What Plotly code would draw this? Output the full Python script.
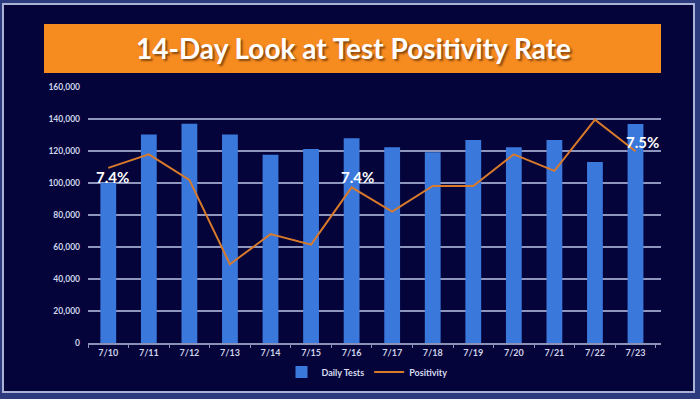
import plotly.graph_objects as go

dates = ["7/10", "7/11", "7/12", "7/13", "7/14", "7/15", "7/16",
         "7/17", "7/18", "7/19", "7/20", "7/21", "7/22", "7/23"]
daily_tests = [100000, 130300, 137100, 130300, 117600, 121300, 127900,
               122300, 119200, 126900, 122300, 126900, 113200, 136900]
positivity = [7.39, 7.48, 7.31, 6.75, 6.95, 6.88, 7.26,
              7.10, 7.27, 7.27, 7.48, 7.37, 7.71, 7.50]
label_dates = ["7/10", "7/16", "7/23"]
label_texts = ["7.4%", "7.4%", "7.5%"]

W, H = 700, 399
L, R, T, B = 88, 661, 87, 343  # plot area in pixels


def px(x):
    return (x - L) / (R - L)


def py(y):
    return (B - y) / (B - T)


fig = go.Figure()
fig.add_trace(go.Bar(x=dates, y=daily_tests, name="Daily Tests",
                     marker=dict(color="#3a78dc", line=dict(width=0))))
fig.add_trace(go.Scatter(x=dates, y=positivity, name="Positivity", yaxis="y2",
                         mode="lines", line=dict(color="#d97a2b", width=2)))

shapes = [
    # frame
    dict(type="rect", xref="paper", yref="paper", layer="below",
         x0=px(3), x1=px(694), y0=py(392), y1=py(4),
         fillcolor="#04043a", line=dict(color="#aab2d6", width=2)),
    # title box
    dict(type="rect", xref="paper", yref="paper", layer="below",
         x0=px(44), x1=px(661), y0=py(73), y1=py(24),
         fillcolor="#f68b1f", line=dict(width=0)),
]

annotations = [
    dict(text="14-Day Look at Test Positivity Rate", xref="paper", yref="paper",
         x=px(353), y=py(48), showarrow=False, xanchor="center", yanchor="middle",
         font=dict(family="Lato", size=28, color="white", weight="bold",
                   shadow="2px 2px 2px #8a4a10")),
]
shifts = {"7/10": (4, -9), "7/16": (6, 10), "7/23": (7, 9)}
for d, t in zip(label_dates, label_texts):
    i = dates.index(d)
    xs, ys = shifts[d]
    annotations.append(dict(text=t, x=d, y=positivity[i], xref="x", yref="y2",
                            showarrow=False, xshift=xs, yshift=ys,
                            font=dict(family="Lato", size=15, color="white",
                                      weight="bold")))

fig.update_layout(
    width=W, height=H,
    margin=dict(l=L, r=W - R, t=T, b=H - B, autoexpand=False),
    paper_bgcolor="#2c3a7e",
    plot_bgcolor="rgba(0,0,0,0)",
    bargap=0.61,
    showlegend=True,
    legend=dict(orientation="h", x=px(367), y=py(372), xanchor="center",
                yanchor="middle", bgcolor="rgba(0,0,0,0)",
                font=dict(family="Lato", size=9, color="#d8dcf0", weight="bold"),
                itemwidth=30, tracegroupgap=0),
    shapes=shapes,
    annotations=annotations,
    xaxis=dict(type="category", showgrid=False, showline=True,
               linecolor="#8a92b8", linewidth=1.5, ticks="outside",
               tickson="boundaries", ticklen=3, tickcolor="#8a92b8",
               tickfont=dict(family="Lato", size=9, color="#d0d4ea",
                             weight="bold")),
    yaxis=dict(range=[0, 160000], dtick=20000, tickformat=",d",
               showgrid=True, gridcolor="#8f96bd", gridwidth=1.5,
               zeroline=False, showline=False, ticks="",
               ticklabelstandoff=7,
               tickfont=dict(family="Lato", size=8.5, color="#d0d4ea",
                             weight="bold")),
    yaxis2=dict(overlaying="y", range=[6.227, 7.927], visible=False),
)

fig.write_html("out.html",
               config={"displayModeBar": False},
               post_script="document.body.style.margin='0';"
                           "document.body.style.overflow='hidden';")
